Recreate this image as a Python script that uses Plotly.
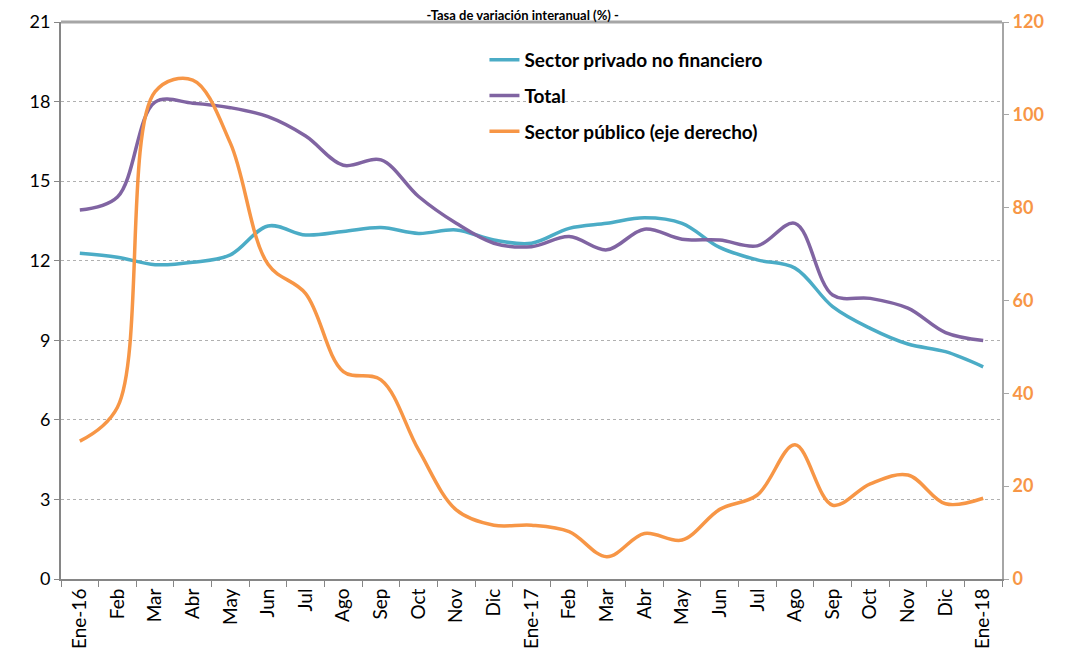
import plotly.graph_objects as go

months = ["Ene-16", "Feb", "Mar", "Abr", "May", "Jun", "Jul", "Ago", "Sep", "Oct", "Nov", "Dic",
          "Ene-17", "Feb", "Mar", "Abr", "May", "Jun", "Jul", "Ago", "Sep", "Oct", "Nov", "Dic",
          "Ene-18"]

privado = [12.28, 12.13, 11.85, 11.94, 12.22, 13.31, 12.97, 13.1, 13.25, 13.03, 13.16, 12.78,
           12.66, 13.22, 13.41, 13.62, 13.41, 12.5, 12.03, 11.72, 10.27, 9.45, 8.86, 8.57, 8.0]
total = [13.91, 14.4, 17.98, 17.94, 17.77, 17.43, 16.7, 15.6, 15.8, 14.42, 13.41, 12.66,
         12.53, 12.91, 12.41, 13.19, 12.81, 12.78, 12.56, 13.41, 10.71, 10.58, 10.21, 9.29, 8.99]
publico = [29.7, 37.0, 105.0, 107.5, 93.9, 67.8, 61.5, 44.7, 42.9, 27.8, 14.9, 11.6,
           11.6, 10.2, 4.8, 9.8, 8.4, 15.0, 18.1, 28.9, 15.9, 20.5, 22.4, 16.2, 17.4]

names = ["Sector privado no financiero", "Total", "Sector público (eje derecho)"]
colors = ["#4BACC6", "#8064A2", "#F79646"]

x = list(range(len(months)))
FONT = "Lato"

fig = go.Figure()
fig.add_trace(go.Scatter(x=x, y=privado, name=names[0], mode="lines",
                         line=dict(color=colors[0], width=3.5, shape="spline", smoothing=1.0),
                         legendgroup="a"))
fig.add_trace(go.Scatter(x=x, y=total, name=names[1], mode="lines",
                         line=dict(color=colors[1], width=3.5, shape="spline", smoothing=1.0),
                         legendgroup="b"))
fig.add_trace(go.Scatter(x=x, y=publico, name=names[2], mode="lines", yaxis="y2",
                         line=dict(color=colors[2], width=3.5, shape="spline", smoothing=1.0),
                         legendgroup="c"))

# the page adds an 8px body margin; size the figure so the plot area lands where the reference has it
W, H = 1057, 656
fig.update_layout(
    width=W, height=H,
    margin=dict(l=53, r=63, t=14, b=85, autoexpand=False),
    paper_bgcolor="white", plot_bgcolor="white",
    font=dict(family=FONT, color="black"),
    title=dict(text="-Tasa de variación interanual (%) -", x=0.487, xanchor="center",
               yref="container", y=1 - 7.5 / H, yanchor="middle", automargin=False,
               font=dict(family=FONT, size=13, weight="bold", color="black")),
    showlegend=True,
    legend=dict(x=0.45, y=0.966, xanchor="left", yanchor="top",
                bgcolor="rgba(0,0,0,0)", tracegroupgap=8,
                font=dict(family=FONT, size=19, weight="bold", color="black")),
    xaxis=dict(range=[-0.5, 24.5], tickmode="array", tickvals=x, ticktext=months,
               tickangle=-90, ticks="", tickfont=dict(family=FONT, size=19), automargin=False,
               showgrid=False, zeroline=False, showline=True, linecolor="#868686", linewidth=2,
               minor=dict(tickmode="array", tickvals=[i - 0.5 for i in range(len(months) + 1)],
                          ticks="outside", ticklen=6, tickcolor="#868686", tickwidth=1, showgrid=False)),
    yaxis=dict(range=[0, 21], dtick=3, tick0=0, ticks="outside", ticklen=5, tickcolor="#868686",
               tickfont=dict(family=FONT, size=18), showgrid=True, gridcolor="#B0B0B0",
               griddash="dot", gridwidth=1, zeroline=False, showline=True, automargin=False,
               linecolor="#868686", linewidth=2),
    yaxis2=dict(range=[0, 120], dtick=20, tick0=0, overlaying="y", side="right",
                ticks="outside", ticklen=5, tickcolor="#A6A6A6", automargin=False,
                tickfont=dict(family=FONT, size=18, color="#F79646", weight="bold"),
                showgrid=False, zeroline=False, showline=True, linecolor="#A6A6A6", linewidth=2),
    shapes=[dict(type="line", xref="paper", yref="paper", x0=0, x1=1, y0=1, y1=1,
                 line=dict(color="#A6A6A6", width=3))],
)

fig.write_html("out.html")
